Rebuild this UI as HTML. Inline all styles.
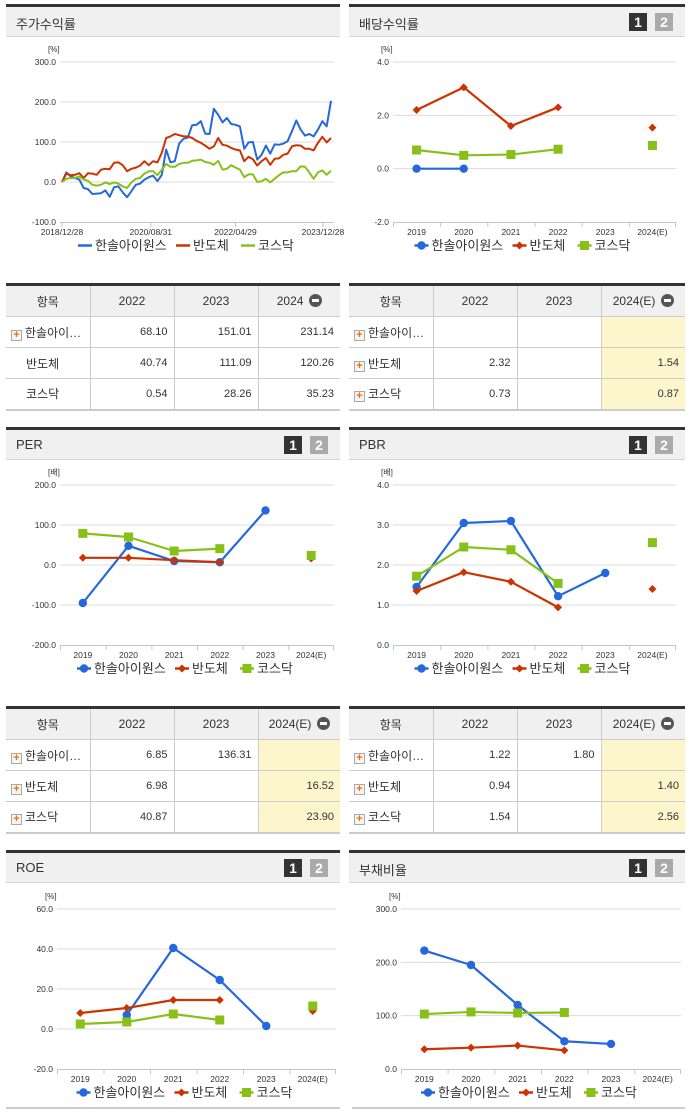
<!DOCTYPE html>
<html><head><meta charset="utf-8">
<style>
*{margin:0;padding:0;box-sizing:border-box}
body{width:691px;height:1115px;background:#fff;position:relative;overflow:hidden;font-family:"Liberation Sans","Noto Sans CJK KR",sans-serif;color:#333}
.hdr{position:absolute;height:33px;background:#f0f0f0;border-top:3px solid #333;border-bottom:1px solid #d6d6d6}
.hdr .t{position:absolute;left:10px;top:7px;font-size:13px;color:#333}
.b{position:absolute;top:6px;width:18px;height:18px;font-size:14px;font-weight:bold;color:#fff;text-align:center;line-height:18px}
.b1{right:38px;background:#333}.b2{right:12px;background:#aaa}
table{position:absolute;border-collapse:collapse;border-top:3px solid #333;border-bottom:2px solid #ccc;font-size:11px;table-layout:fixed}
td,th{border:1px solid #ccc;height:31px;font-weight:normal}
tr>*:first-child{border-left:none}tr>*:last-child{border-right:none}
th{background:#f0f0f0;font-size:12px;text-align:center;height:32px}
td{text-align:right;padding-right:6px;color:#333}
td.n{text-align:left;padding-left:5px;font-size:12px}
td.n.c{padding-left:20px}
td.y{background:#fdf6cc}
.p{display:inline-block;width:11px;height:11px;border:1px solid #aaa;background:#f4f4f4;color:#f07000;font-size:11px;line-height:9px;text-align:center;font-weight:bold;vertical-align:-1px;margin-right:3px}
.m{display:inline-block;width:13px;height:13px;border-radius:50%;background:#555;vertical-align:-2px;position:relative;margin-left:2px}
.m:after{content:"";position:absolute;left:3px;top:5px;width:7px;height:3px;background:#fff}
svg{position:absolute;left:0;top:0}
</style></head><body>
<div class="hdr" style="left:6px;top:4px;width:334px"><span class="t">주가수익률</span></div>
<div class="hdr" style="left:349px;top:4px;width:336px"><span class="t">배당수익률</span><span class="b b1">1</span><span class="b b2">2</span></div>
<div class="hdr" style="left:6px;top:427px;width:334px"><span class="t">PER</span><span class="b b1">1</span><span class="b b2">2</span></div>
<div class="hdr" style="left:349px;top:427px;width:336px"><span class="t">PBR</span><span class="b b1">1</span><span class="b b2">2</span></div>
<div class="hdr" style="left:6px;top:850px;width:334px"><span class="t">ROE</span><span class="b b1">1</span><span class="b b2">2</span></div>
<div class="hdr" style="left:349px;top:850px;width:336px"><span class="t">부채비율</span><span class="b b1">1</span><span class="b b2">2</span></div>

<table style="left:6px;top:283px;width:334px">
<colgroup><col style="width:84px"><col style="width:84px"><col style="width:84px"><col></colgroup>
<tr><th>항목</th><th>2022</th><th>2023</th><th>2024 <span class="m"></span></th></tr>
<tr><td class="n"><span class="p">+</span>한솔아이…</td><td>68.10</td><td>151.01</td><td>231.14</td></tr>
<tr><td class="n c">반도체</td><td>40.74</td><td>111.09</td><td>120.26</td></tr>
<tr><td class="n c">코스닥</td><td>0.54</td><td>28.26</td><td>35.23</td></tr>
</table>
<table style="left:349px;top:283px;width:336px">
<colgroup><col style="width:84px"><col style="width:84px"><col style="width:84px"><col></colgroup>
<tr><th>항목</th><th>2022</th><th>2023</th><th class="y" style="background:#f0f0f0">2024(E) <span class="m"></span></th></tr>
<tr><td class="n"><span class="p">+</span>한솔아이…</td><td></td><td></td><td class="y"></td></tr>
<tr><td class="n"><span class="p">+</span>반도체</td><td>2.32</td><td></td><td class="y">1.54</td></tr>
<tr><td class="n"><span class="p">+</span>코스닥</td><td>0.73</td><td></td><td class="y">0.87</td></tr>
</table>
<table style="left:6px;top:706px;width:334px">
<colgroup><col style="width:84px"><col style="width:84px"><col style="width:84px"><col></colgroup>
<tr><th>항목</th><th>2022</th><th>2023</th><th>2024(E) <span class="m"></span></th></tr>
<tr><td class="n"><span class="p">+</span>한솔아이…</td><td>6.85</td><td>136.31</td><td class="y"></td></tr>
<tr><td class="n"><span class="p">+</span>반도체</td><td>6.98</td><td></td><td class="y">16.52</td></tr>
<tr><td class="n"><span class="p">+</span>코스닥</td><td>40.87</td><td></td><td class="y">23.90</td></tr>
</table>
<table style="left:349px;top:706px;width:336px">
<colgroup><col style="width:84px"><col style="width:84px"><col style="width:84px"><col></colgroup>
<tr><th>항목</th><th>2022</th><th>2023</th><th>2024(E) <span class="m"></span></th></tr>
<tr><td class="n"><span class="p">+</span>한솔아이…</td><td>1.22</td><td>1.80</td><td class="y"></td></tr>
<tr><td class="n"><span class="p">+</span>반도체</td><td>0.94</td><td></td><td class="y">1.40</td></tr>
<tr><td class="n"><span class="p">+</span>코스닥</td><td>1.54</td><td></td><td class="y">2.56</td></tr>
</table>
<div style="position:absolute;left:6px;top:1107px;width:334px;height:2px;background:#ccc"></div>
<div style="position:absolute;left:352px;top:1107px;width:333px;height:2px;background:#ccc"></div>

<svg id="s" width="691" height="1115"></svg>
<script>
const seriesNames=["한솔아이원스","반도체","코스닥"];
const colors=["#2468dc","#cc3300","#88c01a"];
const years=["2019","2020","2021","2022","2023","2024(E)"];
// stock return (weekly-ish samples)
const stockBlue=[0,24,14,10,6,-15,-18,-30,-29,-28,-21,-37,-13,-11,-26,-38,-23,-7,-4,6,12,16,2,18,81,49,52,96,108,111,142,143,152,121,120,183,168,149,160,145,143,139,83,99,100,56,68,91,71,94,93,96,102,127,154,131,116,120,114,131,152,139,203];
const stockRed=[0,21,17,18,22,10,22,21,18,31,33,32,48,49,42,27,33,36,41,52,42,52,49,73,110,114,120,117,114,114,110,103,98,91,83,89,110,93,91,85,81,79,52,63,57,41,52,60,43,58,59,68,71,89,92,91,83,83,79,98,113,99,110];
const stockGreen=[0,8,10,10,14,6,3,-7,-9,-7,-1,-5,-1,-4,-11,-15,-1,8,10,21,27,27,17,31,45,38,38,45,48,48,53,54,56,50,48,43,53,31,33,42,36,31,12,19,19,0,2,8,-1,8,17,24,24,27,27,39,38,24,8,24,29,18,28];
const stockTicks=[-100,0,100,200,300];
const stockDates=["2018/12/28","2020/08/31","2022/04/29","2023/12/28"];
const stockDatePos=[0,0.33,0.645,0.97];
// dividend yield
const divBlue=[0,0,null,null,null,null];
const divRed=[2.2,3.05,1.6,2.3,null,1.54];
const divGreen=[0.7,0.5,0.53,0.73,null,0.87];
const divTicks=[-2,0,2,4];
// PER
const perBlue=[-95,48,10,6.85,136.31,null];
const perRed=[18,18,12,6.98,null,16.52];
const perGreen=[79,70,35,40.87,null,23.90];
const perTicks=[-200,-100,0,100,200];
// PBR
const pbrBlue=[1.45,3.05,3.1,1.22,1.80,null];
const pbrRed=[1.35,1.82,1.58,0.94,null,1.40];
const pbrGreen=[1.72,2.45,2.38,1.54,null,2.56];
const pbrTicks=[0,1,2,3,4];
// ROE
const roeBlue=[null,7,40.5,24.5,1.5,null];
const roeRed=[8,10.5,14.5,14.5,null,9];
const roeGreen=[2.5,3.5,7.5,4.5,null,11.5];
const roeTicks=[-20,0,20,40,60];
// Debt ratio
const debtBlue=[222,195,120,52,47,null];
const debtRed=[37,40,44,35,null,null];
const debtGreen=[103,107,105,106,null,null];
const debtTicks=[0,100,200,300];

const S=document.getElementById('s');
const NS="http://www.w3.org/2000/svg";
function mk(tag,attrs,parent){const e=document.createElementNS(NS,tag);for(const k in attrs)e.setAttribute(k,attrs[k]);(parent||S).appendChild(e);return e;}
function txt(x,y,s,size,anchor,fill,parent){const t=mk('text',{x:x,y:y,'font-size':size,'text-anchor':anchor||'start',fill:fill||'#333','font-family':'"Liberation Sans","Noto Sans CJK KR",sans-serif'},parent);t.textContent=s;return t;}

function frame(name,T,x0,x1,ticks,unit){
  const g=mk('g',{});
  
  
  const yT=T+58,yB=T+218,mn=ticks[0],mx=ticks[ticks.length-1];
  const Y=v=>yB-(v-mn)/(mx-mn)*(yB-yT);
  txt(x0-12,T+48,unit,8,'start','#333',g);
  ticks.forEach(v=>{
    const y=Y(v);
    if(v!==mn){mk('line',{x1:x0,x2:x1,y1:y,y2:y,stroke:'#dcdcdc','stroke-width':1},g);}
    const t=txt(x0-4,y+3,(v).toFixed(1),8.5,'end','#333',g);
    
    
  });
  mk('line',{x1:x0,x2:x1,y1:yB+0.5,y2:yB+0.5,stroke:'#b8c8dc','stroke-width':1},g);
  return {g,Y,yB,T};
}
function legend(g,cx,y,kind){
  let x=cx-120;
  const tw=[73,40,40];
  seriesNames.forEach((n,i)=>{
    const lg=mk('g',{},g);
    
    
    mk('line',{x1:x,x2:x+14,y1:y-4.5,y2:y-4.5,stroke:colors[i],'stroke-width':2.5},lg);
    if(kind!=='line')marker(lg,i,x+7,y-4.5);
    txt(x+17,y,n,13,'start','#333',lg);
    x+=17+tw[i]+8;
  });
}
function marker(g,i,x,y){
  let m;
  if(i===0)m=mk('circle',{cx:x,cy:y,r:4.2,fill:colors[0]},g);
  else if(i===1)m=mk('path',{d:`M${x} ${y-4}L${x+4} ${y}L${x} ${y+4}L${x-4} ${y}Z`,fill:colors[1]},g);
  else m=mk('rect',{x:x-4.5,y:y-4.5,width:9,height:9,fill:colors[2]},g);
  
  
}
function catChart(name,T,x0,x1,ticks,unit,data){
  const f=frame(name,T,x0,x1,ticks,unit);
  const bw=(x1-x0)/years.length;
  const X=i=>x0+bw*(i+0.5);
  years.forEach((yr,i)=>{
    mk('line',{x1:x0+bw*i+0.5,x2:x0+bw*i+0.5,y1:f.yB,y2:f.yB+5,stroke:'#b8c8dc'},f.g);
    const t=txt(X(i),f.yB+13,yr,8.5,'middle','#333',f.g);
    
    
  });
  mk('line',{x1:x1-0.5,x2:x1-0.5,y1:f.yB,y2:f.yB+5,stroke:'#b8c8dc'},f.g);
  data.forEach((arr,si)=>{
    let seg=[];
    const flush=()=>{if(seg.length>1){const p=mk('polyline',{points:seg.join(' '),fill:'none',stroke:colors[si],'stroke-width':2.2,'stroke-linejoin':'round'},f.g);}seg=[];};
    arr.forEach((v,i)=>{if(v===null){flush();}else seg.push(X(i)+','+f.Y(v));});
    flush();
    arr.forEach((v,i)=>{if(v!==null)marker(f.g,si,X(i),f.Y(v));});
  });
  legend(f.g,(x0+x1)/2,T+246,'marker');
}
// stock chart
(function(){
  const x0=60,x1=334,T=4;
  const f=frame('stock-return-chart',T,x0,x1,stockTicks,'[%]');
  const px0=62,px1=331;
  stockDates.forEach((d,i)=>{
    const x=px0+(px1-px0)*stockDatePos[i];
    mk('line',{x1:x,x2:x,y1:f.yB,y2:f.yB+5,stroke:'#b8c8dc'},f.g);
    const t=txt(x,f.yB+13,d,8.5,'middle','#333',f.g);
    
    
  });
  [stockBlue,stockRed,stockGreen].forEach((arr,si)=>{
    const pts=arr.map((v,i)=>(px0+(px1-px0)*i/(arr.length-1))+','+f.Y(v)).join(' ');
    const p=mk('polyline',{points:pts,fill:'none',stroke:colors[si],'stroke-width':2,'stroke-linejoin':'round'},f.g);
    
    
  });
  legend(f.g,(x0+x1)/2+1,T+246,'line');
})();
catChart('dividend-yield-chart',4,393,676,divTicks,'[%]',[divBlue,divRed,divGreen]);
catChart('per-chart',427,60,334,perTicks,'[배]',[perBlue,perRed,perGreen]);
catChart('pbr-chart',427,393,676,pbrTicks,'[배]',[pbrBlue,pbrRed,pbrGreen]);
catChart('roe-chart',851,57,336,roeTicks,'[%]',[roeBlue,roeRed,roeGreen]);
catChart('debt-ratio-chart',851,401,681,debtTicks,'[%]',[debtBlue,debtRed,debtGreen]);
</script>
</body></html>
